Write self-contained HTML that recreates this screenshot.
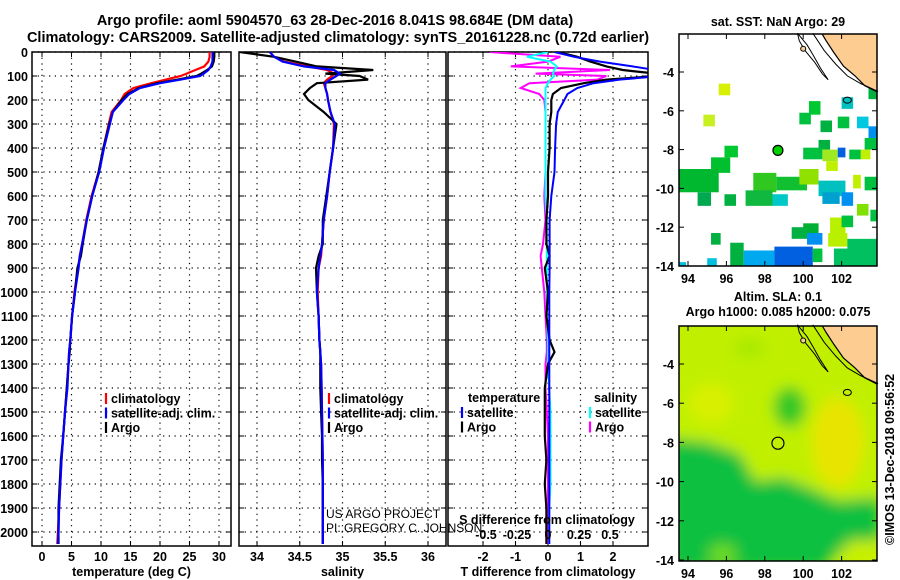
<!DOCTYPE html>
<html><head><meta charset="utf-8">
<style>
body{margin:0;background:#fff;}
svg{display:block;font-family:"Liberation Sans",sans-serif;}
.b{font-weight:bold;font-size:14.5px;}
.t{font-weight:bold;font-size:12.5px;}
</style></head>
<body>
<svg id="c" width="900" height="580" viewBox="0 0 900 580">
<defs>
<filter id="bl" x="-50%" y="-50%" width="200%" height="200%"><feGaussianBlur stdDeviation="7"/></filter>
<clipPath id="m1c"><rect x="679" y="34" width="198" height="232"/></clipPath>
<clipPath id="m2c"><rect x="679" y="326" width="198" height="235"/></clipPath>
<clipPath id="p1c"><rect x="32" y="52" width="199" height="494"/></clipPath>
<clipPath id="p2c"><rect x="239" y="52" width="207" height="494"/></clipPath>
<clipPath id="p3c"><rect x="448" y="52" width="200" height="494"/></clipPath>
</defs>
<text class="b" x="335" y="25" text-anchor="middle">Argo profile: aoml 5904570_63 28-Dec-2016 8.041S 98.684E (DM data)</text>
<text class="b" x="338" y="42" text-anchor="middle">Climatology: CARS2009. Satellite-adjusted climatology: synTS_20161228.nc (0.72d earlier)</text>
<g id="g"></g>
</svg>
<script>
// ---- data ----
const depthTicks=[0,100,200,300,400,500,600,700,800,900,1000,1100,1200,1300,1400,1500,1600,1700,1800,1900,2000];
const tempTicks=[0,5,10,15,20,25,30];
const salTicks=[34,34.5,35,35.5,36];
const salTickLabels=["34","34.5","35","35.5","36"];
const tdTicks=[-2,-1,0,1,2];
const sdTicks=[-0.5,-0.25,0,0.25,0.5];
const sdTickLabels=["-0.5","-0.25","0","0.25","0.5"];
const depths=[0,20,40,60,75,90,100,115,130,150,175,200,250,300,400,500,600,700,800,850,900,1000,1100,1200,1250,1300,1400,1500,1600,1700,1800,1900,2000,2050];
const tempClim=[28.4,28.4,28.2,27.5,26,24.5,23.5,21,18.5,15.5,14,13.4,11.8,11.3,10.4,9.6,8.4,7.5,6.8,6.4,6.1,5.5,5.1,4.8,4.6,4.5,4.2,3.9,3.6,3.3,3.1,2.9,2.7,2.6];
const tempSat=[28.9,28.9,28.9,28.6,28.2,27.4,26.8,23.5,20,16.6,14.8,13.8,12,11.5,10.5,9.7,8.5,7.6,6.8,6.4,6.2,5.6,5.1,4.8,4.6,4.5,4.3,3.9,3.6,3.3,3.1,2.9,2.8,2.7];
const tempArgo=[29.2,29.2,29.1,28.8,28.0,27,26.2,23,19.5,16.4,14.5,13.5,12,11.4,10.4,9.6,8.5,7.6,6.9,6.6,6.0,5.6,5.1,4.8,4.7,4.5,4.2,3.9,3.6,3.2,3.0,2.8,2.8,2.8];
const salClim=[34.15,34.2,34.32,34.6,34.82,34.9,34.88,34.82,34.78,34.8,34.82,34.83,34.86,34.9,34.89,34.85,34.82,34.78,34.76,34.75,34.72,34.71,34.72,34.73,34.74,34.75,34.755,34.76,34.765,34.77,34.77,34.77,34.77,34.77];
const salSat=[34.15,34.2,34.3,34.55,34.9,34.97,34.93,34.86,34.8,34.8,34.82,34.83,34.86,34.91,34.89,34.85,34.82,34.78,34.76,34.74,34.72,34.7,34.72,34.73,34.74,34.75,34.755,34.76,34.765,34.77,34.77,34.77,34.77,34.77];
const salArgo=[33.8,34.2,34.45,34.7,35.36,34.8,35.2,35.3,34.7,34.62,34.55,34.6,34.78,34.93,34.89,34.85,34.81,34.77,34.77,34.72,34.69,34.7,34.72,34.73,34.74,34.74,34.74,34.75,34.76,34.76,34.77,34.77,34.77,34.77];
const tdSat=[0.2,0.8,1.6,2.6,3.3,3.5,3.5,2.2,1.4,0.9,0.6,0.5,0.3,0.25,0.22,0.2,0.1,0.05,0.05,0.05,0.05,0.04,0.04,0.04,0.04,0.04,0.04,0.04,0.04,0.04,0.04,0.04,0.04,0.04];
const tdArgo=[0.3,0.9,1.3,1.8,2.3,3.3,3.4,1.8,1.1,0.4,0.15,0.1,0.1,0.05,0.05,0.0,0.0,-0.05,-0.05,0.05,-0.1,0.0,-0.05,0.05,0.2,0.0,-0.1,-0.1,-0.1,-0.05,-0.1,-0.05,-0.05,-0.05];
const sdSat=[0.0,-0.17,0.02,0.07,0.05,0.04,0.05,0.02,0.0,-0.02,-0.02,-0.02,-0.02,-0.02,-0.02,-0.02,-0.02,-0.01,-0.01,-0.01,-0.01,-0.01,-0.01,0.0,0.0,0.0,0.01,0.02,0.02,0.02,0.02,0.01,0.01,0.01];
const sdArgo=[-0.47,0.1,0.0,-0.3,0.5,-0.1,0.47,0.4,-0.15,-0.22,-0.07,-0.03,-0.02,-0.02,-0.02,-0.02,-0.03,-0.02,-0.04,-0.06,-0.05,-0.03,-0.02,-0.01,-0.01,-0.02,-0.02,-0.01,0.0,0.0,0.0,0.0,0.0,0.0];
const lonTicks=[94,96,98,100,102];
const latTicks=[-4,-6,-8,-10,-12,-14];
const sstCells=[[95.6,96.2,-4.6,-5.2,"#d8f000"],[94.8,95.4,-6.2,-6.8,"#c8f020"],[100.3,100.9,-5.5,-6.2,"#00c830"],[99.8,100.4,-6.1,-6.7,"#00c040"],[100.9,101.5,-6.5,-7.1,"#00b040"],[101.8,102.4,-6.3,-6.9,"#00c040"],[102.8,103.4,-6.3,-6.9,"#00c8e0"],[103.4,103.9,-6.8,-7.4,"#0090f0"],[102.0,102.6,-5.3,-5.9,"#00c0c0"],[103.4,103.9,-4.8,-5.4,"#00b040"],[103.2,103.9,-7.4,-8.0,"#00c040"],[100.8,101.4,-7.5,-8.0,"#00b040"],[100.0,101.0,-7.9,-8.5,"#00c040"],[101.0,101.8,-8.0,-8.6,"#a0e820"],[101.8,102.2,-7.9,-8.4,"#0060e0"],[102.4,103.0,-8.0,-8.5,"#00c040"],[103.0,103.5,-8.0,-8.5,"#c0f000"],[101.2,101.8,-8.6,-9.1,"#c0f000"],[95.9,96.6,-7.8,-8.4,"#00c830"],[95.2,96.2,-8.4,-9.2,"#00c030"],[93.5,95.6,-9.0,-10.2,"#00b830"],[97.4,98.6,-9.2,-10.2,"#30c820"],[98.6,100.2,-9.4,-10.1,"#10c030"],[99.8,100.8,-9.0,-9.8,"#90e000"],[100.8,102.2,-9.6,-10.4,"#00c0c0"],[102.6,103.0,-9.3,-10.0,"#c0f000"],[103.2,103.9,-9.4,-10.1,"#00c040"],[94.5,95.2,-10.2,-10.9,"#00a850"],[95.9,96.5,-10.3,-10.9,"#00b040"],[97.0,98.4,-10.1,-10.9,"#10b840"],[98.4,99.2,-10.3,-10.9,"#00c8c8"],[102.0,102.6,-10.2,-10.9,"#0090f0"],[101.0,101.9,-10.2,-10.8,"#00a0d0"],[102.8,103.4,-10.8,-11.4,"#80e000"],[103.5,103.9,-11.1,-11.7,"#00c040"],[101.4,102.2,-11.5,-12.4,"#b8f000"],[102.0,102.6,-11.4,-12.0,"#00c040"],[100.0,100.8,-11.8,-12.4,"#00b030"],[99.4,100.2,-12.0,-12.6,"#00b040"],[100.2,101.0,-12.3,-12.9,"#0090f0"],[101.3,102.3,-12.3,-13.0,"#b8f000"],[95.2,95.7,-12.3,-12.9,"#00b040"],[102.3,103.9,-12.6,-13.2,"#00c060"],[96.2,96.9,-12.8,-14.0,"#00b040"],[96.9,98.5,-13.2,-14.0,"#00a8f0"],[98.5,100.5,-13.0,-14.0,"#0060e0"],[100.5,101.0,-13.1,-13.8,"#00c040"],[101.6,103.9,-13.1,-14.0,"#00c060"],[95.0,95.5,-13.6,-14.0,"#00c0e0"],[93.5,93.9,-13.8,-14.0,"#00c0e0"]];

const NS="http://www.w3.org/2000/svg";
const G=document.getElementById("g");
function el(tag,at,parent){const e=document.createElementNS(NS,tag);for(const k in at)e.setAttribute(k,at[k]);(parent||G).appendChild(e);return e;}
function txt(s,at,parent){const e=el("text",at,parent);e.textContent=s;return e;}
const yD=d=>52+d*0.24;
const xT=t=>42+t*5.9;
const xS=s=>257+(s-34)*85.5;
const xTD=v=>548+v*32.5;
const xSD=v=>548+v*124;
const mX=lon=>688+(lon-94)*19.2;
const m1Y=lat=>72-(lat+4)*19.4;
const m2Y=lat=>364-(lat+4)*19.6;

function panel(name,x0,x1,xTicks,xfun,labels,xlabel,showY){
  const p=el("g",{});
  
  
  depthTicks.forEach(d=>{const g=el("line",{x1:x0,x2:x1,y1:yD(d),y2:yD(d),stroke:"#000","stroke-width":1.2,"stroke-dasharray":"1.2 4.5"},p);
    
    el("line",{x1:x0,x2:x0+5,y1:yD(d),y2:yD(d),stroke:"#000"},p);
    el("line",{x1:x1-5,x2:x1,y1:yD(d),y2:yD(d),stroke:"#000"},p);
    if(showY){const t=txt(String(d),{x:x0-4,y:yD(d)+5,"text-anchor":"end",class:"t"},p);}
  });
  xTicks.forEach((v,i)=>{const X=xfun(v);
    el("line",{x1:X,x2:X,y1:52,y2:546,stroke:"#000","stroke-width":1.2,"stroke-dasharray":"1.2 4.5"},p);
    el("line",{x1:X,x2:X,y1:546,y2:541,stroke:"#000"},p);el("line",{x1:X,x2:X,y1:52,y2:57,stroke:"#000"},p);
    const t=txt(labels[i],{x:X,y:561,"text-anchor":"middle",class:"t"},p);
  });
  el("rect",{x:x0,y:52,width:x1-x0,height:494,fill:"none",stroke:"#000","stroke-width":1.5},p);
  const xl=txt(xlabel,{x:(x0+x1)/2,y:576,"text-anchor":"middle",class:"t"},p);
  
  return p;
}
function line(vals,xfun,color,clip,name,w){
  const pts=vals.map((v,i)=>xfun(v).toFixed(1)+","+yD(depths[i]).toFixed(1)).join(" ");
  const l=el("polyline",{points:pts,fill:"none",stroke:color,"stroke-width":w||2.2,"clip-path":"url(#"+clip+")"});
  
}
function legend(x,y,items,parent){items.forEach((it,i)=>{
  el("line",{x1:x,x2:x,y1:y+i*14.5-10,y2:y+i*14.5+1,stroke:it[1],"stroke-width":2.2});
  const t=txt(it[0],{x:x+5,y:y+i*14.5,class:"t"});});}

panel("temperature-panel",32,231,tempTicks,xT,tempTicks.map(String),"temperature (deg C)",true);
line(tempClim,xT,"#f00","p1c","temperature-climatology-line");
line(tempArgo,xT,"#000","p1c","temperature-argo-line");
line(tempSat,xT,"#00f","p1c","temperature-satellite-line");
legend(106,403,[["climatology","#f00"],["satellite-adj. clim.","#00f"],["Argo","#000"]]);

panel("salinity-panel",239,446,salTicks,xS,salTickLabels,"salinity",false);
line(salClim,xS,"#f00","p2c","salinity-climatology-line");
line(salArgo,xS,"#000","p2c","salinity-argo-line");
line(salSat,xS,"#00f","p2c","salinity-satellite-line");
legend(329,403,[["climatology","#f00"],["satellite-adj. clim.","#00f"],["Argo","#000"]]);
let u=txt("US ARGO PROJECT",{x:326,y:518,"font-size":12,fill:"#000"});
u=txt("PI: GREGORY C. JOHNSON",{x:326,y:532,"font-size":12});

panel("difference-panel",448,648,tdTicks,xTD,tdTicks.map(String),"T difference from climatology",false);
line(sdArgo,xSD,"#f0f","p3c","salinity-argo-difference-line",2);
line(sdSat,xSD,"#0ff","p3c","salinity-satellite-difference-line",2);
line(tdArgo,xTD,"#000","p3c","temperature-argo-difference-line");
line(tdSat,xTD,"#00f","p3c","temperature-satellite-difference-line",2);
let tt=txt("temperature",{x:468,y:402,class:"t"});
tt=txt("salinity",{x:594,y:402,class:"t"});
legend(462,417,[["satellite","#00f"],["Argo","#000"]]);
legend(590,417,[["satellite","#0ff"],["Argo","#f0f"]]);
tt=txt("S difference from climatology",{x:547,y:524,"text-anchor":"middle",class:"t"});
sdTicks.forEach((v,i)=>{const t=txt(sdTickLabels[i],{x:xSD(v),y:539,"text-anchor":"middle",class:"t"});});

// ---- maps ----
function mapFrame(name){
  const m=el("g",{});
  return m;
}
function mapAxes(m,top,bot,yf){
  el("rect",{x:679,y:top,width:198,height:bot-top,fill:"none",stroke:"#000","stroke-width":1.5},m);
  lonTicks.forEach(v=>{el("line",{x1:mX(v),x2:mX(v),y1:bot,y2:bot-5,stroke:"#000"},m);el("line",{x1:mX(v),x2:mX(v),y1:top,y2:top+5,stroke:"#000"},m);
    const t=txt(String(v),{x:mX(v),y:bot+17,"text-anchor":"middle",class:"t"},m);});
  latTicks.forEach(v=>{el("line",{x1:679,x2:684,y1:yf(v),y2:yf(v),stroke:"#000"},m);el("line",{x1:872,x2:877,y1:yf(v),y2:yf(v),stroke:"#000"},m);
    const t=txt(String(v),{x:674,y:yf(v)+5,"text-anchor":"end",class:"t"},m);});
}
function land(m,yf,clip){
  const pts=[[100.9,-1.9],[104,-1.9],[104,-5.1],[103.2,-4.7],[102.7,-4.2],[102.1,-3.7],[101.6,-3.0],[101.2,-2.4]].map(p=>mX(p[0])+","+yf(p[1])).join(" ");
  el("polygon",{points:pts,fill:"#fccc90",stroke:"#000","stroke-width":1.2,"clip-path":"url(#"+clip+")"},m);
  const c2=[[100.5,-2.0],[101.1,-2.9],[101.7,-3.6],[102.3,-4.2],[103.0,-4.6],[103.9,-5.0]].map(p=>mX(p[0])+","+yf(p[1])).join(" ");
  el("polyline",{points:c2,fill:"none",stroke:"#000","stroke-width":1},m);
  const isl=[[99.7,-2.0],[100.2,-2.6],[100.5,-3.1],[100.9,-3.8],[101.3,-4.4],[101.0,-4.1],[100.6,-3.5],[100.1,-2.9],[99.8,-2.4]].map(p=>mX(p[0])+","+yf(p[1])).join(" ");
  el("polygon",{points:isl,fill:"none",stroke:"#000","stroke-width":1},m);
  el("circle",{cx:mX(100.0),cy:yf(-2.8),r:2.5,fill:"#fccc90",stroke:"#000"},m);
  el("ellipse",{cx:mX(102.3),cy:yf(-5.45),rx:4,ry:3,fill:"none",stroke:"#000"},m);
}
const m1=mapFrame("sst-map");
const t1=txt("sat. SST: NaN Argo: 29",{x:778,y:26,"text-anchor":"middle",class:"t"},m1);
sstCells.forEach(c=>{const r=el("rect",{x:mX(c[0]),y:m1Y(c[2]),width:mX(c[1])-mX(c[0]),height:m1Y(c[3])-m1Y(c[2]),fill:c[4],"clip-path":"url(#m1c)"},m1);
  });
land(m1,m1Y,"m1c");
let pm=el("circle",{cx:mX(98.684),cy:m1Y(-8.041),r:5,fill:"#00d000",stroke:"#000","stroke-width":1.2},m1);
mapAxes(m1,34,266,m1Y);

const m2=mapFrame("sla-map");
let s1=txt("Altim. SLA: 0.1",{x:778,y:301,"text-anchor":"middle",class:"t"},m2);
s1=txt("Argo h1000: 0.085 h2000: 0.075",{x:778,y:316,"text-anchor":"middle",class:"t"},m2);
const sg=el("g",{"clip-path":"url(#m2c)"},m2);
el("rect",{x:679,y:326,width:198,height:235,fill:"#c0f000"},sg);
const bf=el("g",{filter:"url(#bl)"},sg);
el("rect",{x:679,y:326,width:198,height:235,fill:"#c0f000"},bf);
el("ellipse",{cx:mX(95.2),cy:m2Y(-6),rx:22,ry:20,fill:"#d8f000"},bf);
el("ellipse",{cx:mX(97.2),cy:m2Y(-3.2),rx:16,ry:10,fill:"#a8e800"},bf);
el("ellipse",{cx:mX(99.3),cy:m2Y(-6.2),rx:16,ry:20,fill:"#30c828"},bf);
el("ellipse",{cx:mX(101.8),cy:m2Y(-8),rx:26,ry:45,fill:"#e8e400"},bf);
el("ellipse",{cx:mX(103),cy:m2Y(-13.6),rx:22,ry:16,fill:"#c8f000"},bf);
const gp=[[93,-7.8],[95,-8],[96.7,-8.6],[97.5,-10],[99,-9.8],[100.5,-10.4],[101.8,-11],[104,-10.8],[104,-13],[102.5,-13],[101,-14.5],[93,-14.5]].map(p=>mX(p[0])+","+m2Y(p[1])).join(" ");
el("polygon",{points:gp,fill:"#10c040"},bf);
el("ellipse",{cx:mX(95.8),cy:m2Y(-13.7),rx:14,ry:10,fill:"#70dc20"},bf);
land(m2,m2Y,"m2c");
pm=el("circle",{cx:mX(98.684),cy:m2Y(-8.041),r:6,fill:"none",stroke:"#000","stroke-width":1.2},m2);
mapAxes(m2,326,561,m2Y);
const cr=txt("©IMOS 13-Dec-2018 09:56:52",{x:0,y:0,class:"t","transform":"translate(894,545) rotate(-90)"});

</script>
</body></html>
